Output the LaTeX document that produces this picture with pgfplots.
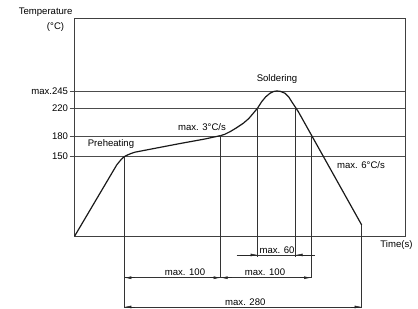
\documentclass[border=0pt]{standalone}
\usepackage{pgfplots}
\pgfplotsset{compat=1.18}
\usetikzlibrary{arrows.meta}
\usepackage{fontspec}
\setmainfont{Liberation Sans}
\begin{document}
\begin{tikzpicture}[font=\fontsize{9.6}{11}\selectfont,
  dim/.style={black!80, line width=0.5pt},
  ar/.style={-{Latex[length=7bp,width=2.8bp]}, black!85, line width=0.5pt}]
\begin{axis}[name=ax, scale only axis, width=330.3bp, height=217.3bp,
  xmin=0, xmax=330.3, ymin=35.3, ymax=349.5,
  xtick=\empty, ytick={150,180,220,245}, yticklabels={150,180,220,max.245},
  ytick pos=left, tick align=outside, major tick length=5bp,
  ymajorgrids, grid style={black!70, line width=0.5pt},
  axis line style={black!75, line width=0.6pt},
  major tick style={black!70, line width=0.5pt},
  yticklabel style={font=\fontsize{9.6}{11}\selectfont, inner sep=1.5bp},
  clip=false]
\addplot[black!90, line width=1.2pt, line join=round] coordinates {
  (0,35.3) (42,138) (44.5,142.5) (46.5,146) (48.5,148.8) (50.5,150.8) (53,152.6)
  (56,154.4) (60.3,156.5) (80,162) (105.3,169) (130,175.5) (146,180.5)
  (150,182.3) (155.3,186.1) (161,191) (168.6,198.3) (174,205) (178.6,212.8)
  (183,220.5) (187,229.5) (191,236.5) (195.3,241.7) (199,244.3) (202,245)
  (205.5,244.5) (210.3,241.7) (214,236.5) (217,229.5) (220,223) (223.6,215.1)
  (287,51.2)};
% extension lines
\draw[dim] (axis cs:49.6,150) -- (axis cs:49.6,-67.3);
\draw[dim] (axis cs:146,181) -- (axis cs:146,-25);
\draw[dim] (axis cs:183,220) -- (axis cs:183,5);
\draw[dim] (axis cs:221,220) -- (axis cs:221,5);
\draw[dim] (axis cs:236.3,180) -- (axis cs:236.3,-25);
\draw[dim] (axis cs:287,51.2) -- (axis cs:287,-67.3);
% max. 60
\draw[dim] (axis cs:162,7.9) -- (axis cs:240.3,7.9);
\draw[ar] (axis cs:165,7.9) -- (axis cs:183,7.9);
\draw[ar] (axis cs:238,7.9) -- (axis cs:221,7.9);
\node[anchor=south, inner sep=1.5bp] at (axis cs:202.3,7.9) {max. 60};
% max. 100 (1)
\draw[dim] (axis cs:49.6,-25) -- (axis cs:146,-25);
\draw[ar] (axis cs:60,-25) -- (axis cs:49.6,-25);
\draw[ar] (axis cs:135,-25) -- (axis cs:146,-25);
\node[anchor=south, inner sep=1.5bp] at (axis cs:110.3,-25) {max. 100};
% max. 100 (2)
\draw[dim] (axis cs:146,-25) -- (axis cs:236.3,-25);
\draw[ar] (axis cs:157,-25) -- (axis cs:146,-25);
\draw[ar] (axis cs:225,-25) -- (axis cs:236.3,-25);
\node[anchor=south, inner sep=1.5bp] at (axis cs:190.3,-25) {max. 100};
% max. 280
\draw[dim] (axis cs:49.6,-67.3) -- (axis cs:287,-67.3);
\draw[ar] (axis cs:60,-67.3) -- (axis cs:49.6,-67.3);
\draw[ar] (axis cs:276,-67.3) -- (axis cs:287,-67.3);
\node[anchor=south, inner sep=1.5bp] at (axis cs:170.6,-67.3) {max. 280};
% labels
\node at (axis cs:202.3,262.3) {Soldering};
\node at (axis cs:127.3,193.4) {max. 3\textdegree C/s};
\node at (axis cs:36.3,168.4) {Preheating};
\node at (axis cs:286.3,138.4) {max. 6\textdegree C/s};
\node at (axis cs:321.8,22.3) {Time(s)};
\node[anchor=east, inner sep=0pt] at (axis cs:-2,358.2) {Temperature};
\node[anchor=east, inner sep=0pt] at (axis cs:-10.4,338) {(\textdegree C)};
\end{axis}
\path ([xshift=-74.7bp,yshift=-73bp]ax.south west) rectangle ([xshift=13bp,yshift=18.7bp]ax.north east);
\end{tikzpicture}
\end{document}
